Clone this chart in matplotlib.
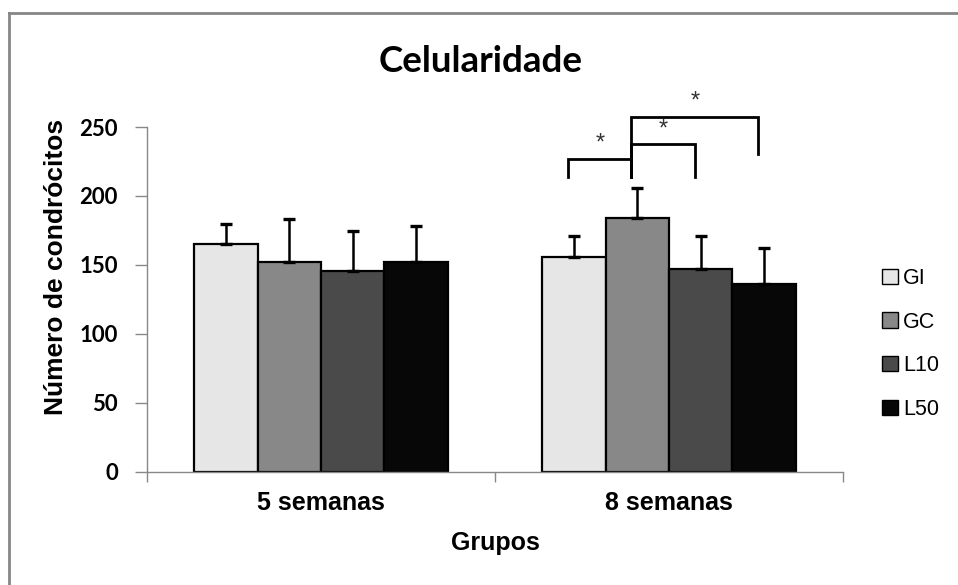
import numpy as np
import matplotlib.pyplot as plt
from matplotlib.lines import Line2D

grupos = ['5 semanas', '8 semanas']
series = ['GI', 'GC', 'L10', 'L50']
cores = ['#e6e6e6', '#888888', '#4a4a4a', '#070707']

# média e desvio (apenas barra superior) por série, na ordem dos grupos
medias = {
    'GI':  [165, 156],
    'GC':  [152, 184],
    'L10': [145.5, 147],
    'L50': [152, 136.5],
}
desvios = {
    'GI':  [15, 15],
    'GC':  [31, 22],
    'L10': [29, 24],
    'L50': [26, 25.5],
}

# comparações significativas no grupo de 8 semanas: (série A, série B, altura, base A, base B)
comparacoes = [
    ('GI', 'GC', 227, 214, 214),
    ('GC', 'L10', 237.5, 214, 214),
    ('GC', 'L50', 257.5, 214, 230.5),
]

fig = plt.figure(figsize=(9.58, 5.85), dpi=100)
ax = fig.add_axes([0.1534, 0.1932, 0.7266, 0.5897])

largura = 1 / 5.5
x = np.arange(len(grupos))
posicoes = {}
for i, s in enumerate(series):
    xs = x + (i - 1.5) * largura
    posicoes[s] = xs
    ax.bar(xs, medias[s], largura, color=cores[i], edgecolor='black',
           linewidth=1.6, label=s, zorder=2)
    ax.errorbar(xs, medias[s], yerr=[np.zeros(len(grupos)), desvios[s]],
                fmt='none', ecolor='black', elinewidth=1.8, capsize=4.5,
                capthick=2.4, zorder=3)

# colchetes de significância
desloc = -0.017
g = 1
for a, b, h, ya, yb in comparacoes:
    xa = posicoes[a][g] + desloc
    xb = posicoes[b][g] + desloc
    ax.plot([xa, xa, xb, xb], [ya, h, h, yb], color='black', lw=2,
            clip_on=False, zorder=4, solid_joinstyle='miter')
    ax.text((xa + xb) / 2, h + 3, '*', ha='center', va='bottom',
            fontsize=17, family='Liberation Sans', color='#333333')

ax.set_xlim(-0.5, 1.5)
ax.set_ylim(0, 250)
ax.set_yticks(range(0, 251, 50))
ax.set_xticks(x)
ax.set_xticklabels(grupos, family='Liberation Sans', fontweight='bold', fontsize=18)
ax.set_xticks([-0.5, 0.5, 1.5], minor=True)
ax.tick_params(axis='x', which='major', length=0, pad=14)
ax.tick_params(axis='x', which='minor', length=7, color='#888888', width=1)
ax.tick_params(axis='y', length=9, color='#888888', width=1, pad=12)
for lbl in ax.get_yticklabels():
    lbl.set_family('Lato')
    lbl.set_fontweight('bold')
    lbl.set_fontsize(16)

for lado in ['top', 'right']:
    ax.spines[lado].set_visible(False)
for lado in ['left', 'bottom']:
    ax.spines[lado].set_color('#888888')
    ax.spines[lado].set_linewidth(1)

ax.set_xlabel('Grupos', family='Liberation Sans', fontweight='bold', fontsize=18)
ax.xaxis.set_label_coords(0.5, -0.172)
ax.set_ylabel('Número de condrócitos', family='Liberation Sans', fontweight='bold',
              fontsize=19)
ax.yaxis.set_label_coords(-0.114, 0.593)

fig.text(0.502, 1 - 71.7 / 585, 'Celularidade', ha='center', va='baseline',
         family='Lato', fontweight='bold', fontsize=26.5)

leg = ax.legend(loc='center left', bbox_to_anchor=(1.056, 0.371), frameon=False,
                prop={'family': 'Liberation Sans', 'size': 15.5}, handlelength=0.72,
                handleheight=0.72, handletextpad=0.25, labelspacing=1.05,
                borderpad=0, borderaxespad=0)
for h in leg.legend_handles:
    h.set_linewidth(1)

# moldura da área do gráfico
fig.add_artist(Line2D([9 / 958, 9 / 958], [0, 1 - 13 / 585], color='#868686', lw=2))
fig.add_artist(Line2D([9 / 958, 1], [1 - 13 / 585, 1 - 13 / 585], color='#868686', lw=2))

fig.savefig('out.png', dpi=100)
